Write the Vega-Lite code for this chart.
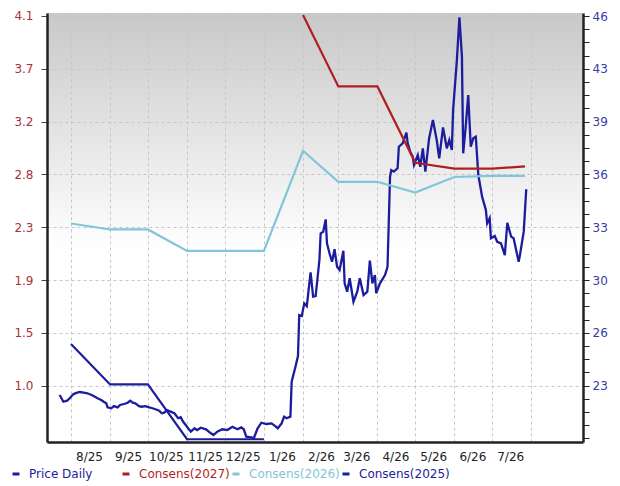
{
  "$schema": "https://vega.github.io/schema/vega-lite/v6.json",
  "autosize": {"type": "none"},
  "padding": {"left": 47, "top": 13, "right": 37, "bottom": 44},
  "width": 536,
  "height": 429,
  "background": "#ffffff",
  "datasets": {
    "consensus": [
      {"date": "2025-08-01", "series": "Consens(2025)", "eps": 1.36},
      {"date": "2025-09-01", "series": "Consens(2025)", "eps": 1.02},
      {"date": "2025-10-01", "series": "Consens(2025)", "eps": 1.02},
      {"date": "2025-11-01", "series": "Consens(2025)", "eps": 0.56},
      {"date": "2025-12-01", "series": "Consens(2025)", "eps": 0.56},
      {"date": "2026-01-01", "series": "Consens(2025)", "eps": 0.56},
      {"date": "2025-08-01", "series": "Consens(2026)", "eps": 2.37},
      {"date": "2025-09-01", "series": "Consens(2026)", "eps": 2.32},
      {"date": "2025-10-01", "series": "Consens(2026)", "eps": 2.32},
      {"date": "2025-11-01", "series": "Consens(2026)", "eps": 2.14},
      {"date": "2025-12-01", "series": "Consens(2026)", "eps": 2.14},
      {"date": "2026-01-01", "series": "Consens(2026)", "eps": 2.14},
      {"date": "2026-02-01", "series": "Consens(2026)", "eps": 2.98},
      {"date": "2026-03-01", "series": "Consens(2026)", "eps": 2.72},
      {"date": "2026-04-01", "series": "Consens(2026)", "eps": 2.72},
      {"date": "2026-05-01", "series": "Consens(2026)", "eps": 2.63},
      {"date": "2026-06-01", "series": "Consens(2026)", "eps": 2.76},
      {"date": "2026-07-01", "series": "Consens(2026)", "eps": 2.77},
      {"date": "2026-07-27", "series": "Consens(2026)", "eps": 2.77},
      {"date": "2026-02-01", "series": "Consens(2027)", "eps": 4.12},
      {"date": "2026-03-01", "series": "Consens(2027)", "eps": 3.52},
      {"date": "2026-04-01", "series": "Consens(2027)", "eps": 3.52},
      {"date": "2026-05-01", "series": "Consens(2027)", "eps": 2.88},
      {"date": "2026-06-01", "series": "Consens(2027)", "eps": 2.83},
      {"date": "2026-07-01", "series": "Consens(2027)", "eps": 2.83},
      {"date": "2026-07-27", "series": "Consens(2027)", "eps": 2.85}
    ],
    "price": [
      {"date": "2025-07-23", "price": 22.31},
      {"date": "2025-07-26", "price": 21.89},
      {"date": "2025-07-29", "price": 21.96},
      {"date": "2025-07-31", "price": 22.11},
      {"date": "2025-08-03", "price": 22.37},
      {"date": "2025-08-06", "price": 22.46},
      {"date": "2025-08-08", "price": 22.5},
      {"date": "2025-08-11", "price": 22.46},
      {"date": "2025-08-14", "price": 22.42},
      {"date": "2025-08-16", "price": 22.36},
      {"date": "2025-08-19", "price": 22.25},
      {"date": "2025-08-22", "price": 22.11},
      {"date": "2025-08-25", "price": 22.0},
      {"date": "2025-08-27", "price": 21.89},
      {"date": "2025-08-29", "price": 21.79},
      {"date": "2025-08-30", "price": 21.54},
      {"date": "2025-09-02", "price": 21.48},
      {"date": "2025-09-04", "price": 21.62},
      {"date": "2025-09-07", "price": 21.54},
      {"date": "2025-09-09", "price": 21.69},
      {"date": "2025-09-12", "price": 21.75},
      {"date": "2025-09-15", "price": 21.83},
      {"date": "2025-09-17", "price": 21.96},
      {"date": "2025-09-19", "price": 21.83},
      {"date": "2025-09-21", "price": 21.79},
      {"date": "2025-09-24", "price": 21.62},
      {"date": "2025-09-26", "price": 21.58},
      {"date": "2025-09-29", "price": 21.62},
      {"date": "2025-10-02", "price": 21.54},
      {"date": "2025-10-04", "price": 21.5},
      {"date": "2025-10-07", "price": 21.42},
      {"date": "2025-10-10", "price": 21.33},
      {"date": "2025-10-12", "price": 21.17},
      {"date": "2025-10-14", "price": 21.21},
      {"date": "2025-10-16", "price": 21.37},
      {"date": "2025-10-19", "price": 21.27},
      {"date": "2025-10-22", "price": 21.17},
      {"date": "2025-10-25", "price": 20.86},
      {"date": "2025-10-27", "price": 20.92},
      {"date": "2025-10-29", "price": 20.64},
      {"date": "2025-10-31", "price": 20.44},
      {"date": "2025-11-03", "price": 20.12},
      {"date": "2025-11-04", "price": 20.02},
      {"date": "2025-11-07", "price": 20.23},
      {"date": "2025-11-09", "price": 20.12},
      {"date": "2025-11-12", "price": 20.27},
      {"date": "2025-11-16", "price": 20.17},
      {"date": "2025-11-20", "price": 19.92},
      {"date": "2025-11-22", "price": 19.81},
      {"date": "2025-11-25", "price": 20.02},
      {"date": "2025-11-29", "price": 20.17},
      {"date": "2025-12-03", "price": 20.12},
      {"date": "2025-12-07", "price": 20.33},
      {"date": "2025-12-11", "price": 20.17},
      {"date": "2025-12-14", "price": 20.29},
      {"date": "2025-12-16", "price": 20.17},
      {"date": "2025-12-18", "price": 19.71},
      {"date": "2025-12-22", "price": 19.67},
      {"date": "2025-12-24", "price": 19.61},
      {"date": "2025-12-27", "price": 20.23},
      {"date": "2025-12-30", "price": 20.58},
      {"date": "2026-01-03", "price": 20.5},
      {"date": "2026-01-07", "price": 20.54},
      {"date": "2026-01-10", "price": 20.37},
      {"date": "2026-01-12", "price": 20.23},
      {"date": "2026-01-15", "price": 20.54},
      {"date": "2026-01-17", "price": 20.96},
      {"date": "2026-01-19", "price": 20.86},
      {"date": "2026-01-22", "price": 20.96},
      {"date": "2026-01-23", "price": 23.14},
      {"date": "2026-01-26", "price": 24.08},
      {"date": "2026-01-28", "price": 24.75},
      {"date": "2026-01-29", "price": 27.31},
      {"date": "2026-01-31", "price": 27.25},
      {"date": "2026-02-02", "price": 28.04},
      {"date": "2026-02-04", "price": 27.87},
      {"date": "2026-02-07", "price": 29.98},
      {"date": "2026-02-09", "price": 28.46},
      {"date": "2026-02-11", "price": 28.5},
      {"date": "2026-02-14", "price": 30.75},
      {"date": "2026-02-15", "price": 32.42},
      {"date": "2026-02-17", "price": 32.52},
      {"date": "2026-02-19", "price": 33.29},
      {"date": "2026-02-20", "price": 31.79},
      {"date": "2026-02-22", "price": 31.17},
      {"date": "2026-02-24", "price": 30.64},
      {"date": "2026-02-26", "price": 31.42},
      {"date": "2026-02-28", "price": 30.33},
      {"date": "2026-03-02", "price": 30.12},
      {"date": "2026-03-05", "price": 31.33},
      {"date": "2026-03-06", "price": 29.29},
      {"date": "2026-03-08", "price": 28.77},
      {"date": "2026-03-10", "price": 29.61},
      {"date": "2026-03-13", "price": 28.14},
      {"date": "2026-03-16", "price": 28.77},
      {"date": "2026-03-18", "price": 29.61},
      {"date": "2026-03-21", "price": 28.56},
      {"date": "2026-03-24", "price": 28.77},
      {"date": "2026-03-26", "price": 30.71},
      {"date": "2026-03-28", "price": 29.29},
      {"date": "2026-03-30", "price": 29.81},
      {"date": "2026-03-31", "price": 28.67},
      {"date": "2026-04-03", "price": 29.29},
      {"date": "2026-04-07", "price": 29.81},
      {"date": "2026-04-09", "price": 30.33},
      {"date": "2026-04-11", "price": 35.96},
      {"date": "2026-04-12", "price": 36.37},
      {"date": "2026-04-14", "price": 36.27},
      {"date": "2026-04-17", "price": 36.48},
      {"date": "2026-04-18", "price": 37.83},
      {"date": "2026-04-21", "price": 38.04},
      {"date": "2026-04-24", "price": 38.71},
      {"date": "2026-04-25", "price": 38.04},
      {"date": "2026-04-27", "price": 37.52},
      {"date": "2026-04-29", "price": 37.21},
      {"date": "2026-04-30", "price": 36.69},
      {"date": "2026-05-03", "price": 37.31},
      {"date": "2026-05-05", "price": 36.58},
      {"date": "2026-05-07", "price": 37.73},
      {"date": "2026-05-09", "price": 36.27},
      {"date": "2026-05-12", "price": 38.36},
      {"date": "2026-05-15", "price": 39.5},
      {"date": "2026-05-18", "price": 38.25},
      {"date": "2026-05-20", "price": 37.11},
      {"date": "2026-05-23", "price": 39.04},
      {"date": "2026-05-26", "price": 37.73},
      {"date": "2026-05-28", "price": 38.25},
      {"date": "2026-05-30", "price": 37.62},
      {"date": "2026-05-31", "price": 40.12},
      {"date": "2026-06-03", "price": 43.25},
      {"date": "2026-06-05", "price": 45.92},
      {"date": "2026-06-07", "price": 43.46},
      {"date": "2026-06-08", "price": 37.42},
      {"date": "2026-06-10", "price": 39.08},
      {"date": "2026-06-12", "price": 41.06},
      {"date": "2026-06-14", "price": 37.83},
      {"date": "2026-06-16", "price": 38.36},
      {"date": "2026-06-18", "price": 38.46},
      {"date": "2026-06-20", "price": 36.06},
      {"date": "2026-06-23", "price": 34.71},
      {"date": "2026-06-26", "price": 33.87},
      {"date": "2026-06-27", "price": 33.04},
      {"date": "2026-06-29", "price": 33.36},
      {"date": "2026-06-30", "price": 32.11},
      {"date": "2026-07-03", "price": 32.25},
      {"date": "2026-07-05", "price": 31.89},
      {"date": "2026-07-08", "price": 31.79},
      {"date": "2026-07-11", "price": 31.06},
      {"date": "2026-07-13", "price": 33.08},
      {"date": "2026-07-16", "price": 32.21},
      {"date": "2026-07-18", "price": 32.11},
      {"date": "2026-07-20", "price": 31.37},
      {"date": "2026-07-22", "price": 30.64},
      {"date": "2026-07-23", "price": 31.06},
      {"date": "2026-07-26", "price": 32.52},
      {"date": "2026-07-28", "price": 35.17}
    ]
  },
  "encoding": {
    "x": {
      "field": "date",
      "type": "temporal",
      "scale": {
        "type": "utc",
        "domain": [
          {"year": 2025, "month": 7, "date": 13, "utc": true},
          {"year": 2026, "month": 9, "date": 11, "utc": true}
        ]
      },
      "axis": {
        "title": null,
        "values": [
          {"year": 2025, "month": 8, "date": 1, "utc": true},
          {"year": 2025, "month": 9, "date": 1, "utc": true},
          {"year": 2025, "month": 10, "date": 1, "utc": true},
          {"year": 2025, "month": 11, "date": 1, "utc": true},
          {"year": 2025, "month": 12, "date": 1, "utc": true},
          {"year": 2026, "month": 1, "date": 1, "utc": true},
          {"year": 2026, "month": 2, "date": 1, "utc": true},
          {"year": 2026, "month": 3, "date": 1, "utc": true},
          {"year": 2026, "month": 4, "date": 1, "utc": true},
          {"year": 2026, "month": 5, "date": 1, "utc": true},
          {"year": 2026, "month": 6, "date": 1, "utc": true},
          {"year": 2026, "month": 7, "date": 1, "utc": true},
          {"year": 2026, "month": 8, "date": 1, "utc": true}
        ],
        "labelExpr": "datum.value >= utc(2026, 7, 1) ? '' : utcFormat(datum.value, '%-m/%y')",
        "labelOffset": 18,
        "labelPadding": 9,
        "labelOverlap": false,
        "labelFlush": false,
        "labelBound": false,
        "labelColor": "#222222",
        "ticks": false,
        "grid": true,
        "gridColor": "#c6c6c6",
        "gridDash": [3, 3],
        "domainColor": "#222222",
        "domainWidth": 2.5
      }
    }
  },
  "layer": [
    {
      "data": {"name": "price"},
      "mark": {"type": "line", "strokeWidth": 2.3, "clip": true},
      "encoding": {
        "y": {
          "field": "price",
          "type": "quantitative",
          "scale": {"domain": [19.375, 46.1875], "nice": false, "zero": false},
          "axis": {
            "orient": "right",
            "title": null,
            "grid": false,
            "values": [19.6, 20.425, 21.25, 22.075, 22.9, 23.725, 24.55, 25.375, 26.2, 27.025, 27.85, 28.675, 29.5, 30.325, 31.15, 31.975, 32.8, 33.625, 34.45, 35.275, 36.1, 36.925, 37.75, 38.575, 39.4, 40.225, 41.05, 41.875, 42.7, 43.525, 44.35, 45.175, 46],
            "labelExpr": "indexof([22.9, 26.2, 29.5, 32.8, 36.1, 39.4, 42.7, 46], datum.value) >= 0 ? format(round(datum.value), 'd') : ''",
            "tickSize": 6,
            "tickColor": "#222222",
            "labelPadding": 3,
            "labelColor": "#3a3aa6",
            "domainColor": "#222222",
            "domainWidth": 2.5
          }
        },
        "color": {"datum": "Price Daily"}
      }
    },
    {
      "data": {"name": "consensus"},
      "mark": {"type": "line", "strokeWidth": 2.2, "clip": true},
      "encoding": {
        "y": {
          "field": "eps",
          "type": "quantitative",
          "scale": {"domain": [0.537, 4.136], "nice": false, "zero": false},
          "axis": {
            "orient": "left",
            "title": null,
            "values": [1.01, 1.453, 1.896, 2.339, 2.782, 3.224, 3.668, 4.111],
            "format": ".1f",
            "grid": true,
            "gridColor": "#c6c6c6",
            "gridDash": [3, 3],
            "tickSize": 6,
            "tickColor": "#444444",
            "labelPadding": 8,
            "labelColor": "#a8323a",
            "domainColor": "#222222",
            "domainWidth": 2.5
          }
        },
        "color": {
          "field": "series",
          "type": "nominal",
          "scale": {
            "domain": ["Price Daily", "Consens(2027)", "Consens(2026)", "Consens(2025)"],
            "range": ["#1c1c9e", "#b01f1f", "#80c6d8", "#1c1c9e"]
          },
          "legend": {
            "title": null,
            "orient": "none",
            "legendX": -37,
            "legendY": 455,
            "direction": "horizontal",
            "columns": 4,
            "gridAlign": "all",
            "columnPadding": -6,
            "symbolType": "stroke",
            "symbolSize": 49,
            "symbolStrokeWidth": 3,
            "labelOffset": 7,
            "labelFontSize": 12,
            "encode": {
              "labels": {
                "update": {"fill": {"scale": "color", "field": "value"}}
              }
            }
          }
        }
      }
    }
  ],
  "resolve": {"scale": {"y": "independent"}},
  "config": {
    "font": "DejaVu Sans",
    "view": {
      "stroke": null,
      "fill": {
        "gradient": "linear",
        "x1": 0, "y1": 0, "x2": 0, "y2": 1,
        "stops": [
          {"offset": 0, "color": "#c8c8c8"},
          {"offset": 0.55, "color": "#ffffff"},
          {"offset": 1, "color": "#ffffff"}
        ]
      }
    },
    "axis": {"labelFont": "DejaVu Sans", "labelFontSize": 12},
    "legend": {"labelFont": "DejaVu Sans"}
  }
}
